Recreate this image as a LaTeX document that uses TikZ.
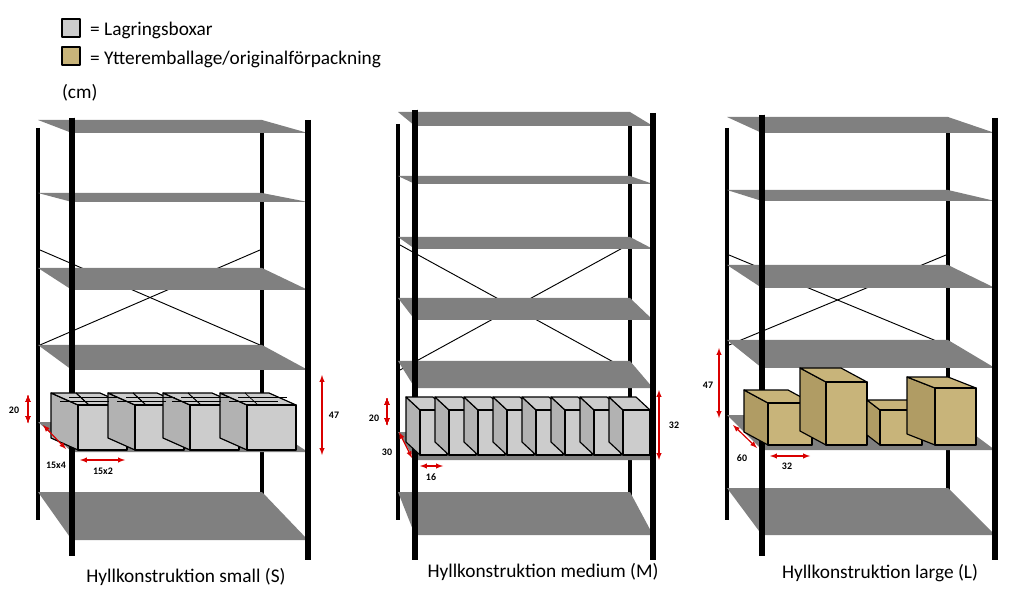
\documentclass[tikz,border=0pt]{standalone}
\usepackage{fontspec}
\setmainfont{Carlito}
\definecolor{cartonbrown}{HTML}{C8B47A}
\definecolor{cartonside}{HTML}{B09C64}
\definecolor{plategrey}{HTML}{808080}
\tikzset{
  backpost/.style={line width=3pt, black},
  frontpost/.style={line width=4.5pt, black},
  brace/.style={line width=0.8pt, black},
  greybox/.style={fill=gray!40, draw=black, line width=1pt, line join=round},
  greyside/.style={fill=gray!60, draw=black, line width=1pt, line join=round},
  brownbox/.style={fill=cartonbrown, draw=black, line width=1pt, line join=round},
  brownside/.style={fill=cartonside, draw=black, line width=1pt, line join=round},
  dimline/.style={red!85!black, line width=1pt, <->, >=latex},
  dimlabel/.style={font=\bfseries\fontsize{8.5}{10}\selectfont},
  legendtext/.style={font=\fontsize{16.5}{19}\selectfont},
  caption/.style={font=\fontsize{16.5}{19}\selectfont}
}
% shelf plate: back-left x, back-right x, front-left x, front-right x, back y, front y
\newcommand\shelfplate[6]{\fill[plategrey] (#1,#5) -- (#2,#5) -- (#4,#6) -- (#3,#6) -- cycle;}
% box: front x, front width, top y, bottom y, dx, dy, style, side style
\newcommand\storebox[8]{
  \draw[#8] (#1,#3) -- ++(#5,#6) -- ++(0,#4-#3) -- (#1,#4) -- cycle;
  \draw[#7] (#1,#3) -- ++(#5,#6) -- ++(#2,0) -- (#1+#2,#3) -- cycle;
  \draw[#7] (#1,#3) rectangle (#1+#2,#4);
}
\begin{document}
\begin{tikzpicture}[x=0.3mm, y=-0.3mm]
  \useasboundingbox (0,0) rectangle (1024,602);

  % legend
  \draw[greybox] (62,19) rectangle (80,37);
  \node[legendtext, anchor=west] (leggrey) at (86,30) {= Lagringsboxar};
  \draw[brownbox] (62,47) rectangle (80,65);
  \node[legendtext, anchor=west] (legbrown) at (86,59) {= Ytteremballage/originalförpackning};
  \node[legendtext, anchor=west] (unit) at (58,93) {(cm)};

  % small unit
  \draw[backpost] (38,128) -- (38,520);
  \draw[backpost] (262,130) -- (262,522);
  \draw[brace] (40,250) -- (260,345);
  \draw[brace] (40,345) -- (260,250);
  \foreach \yb/\yf in {120/133, 193/202, 268/290, 345/370, 422/452, 492/540}
    \shelfplate{38}{262}{72}{308}{\yb}{\yf}
  \draw[frontpost] (72,118) -- (72,556);
  \draw[frontpost] (308,120) -- (308,560);
  \foreach \fx in {78,135,190,247}
    \storebox{\fx}{49}{405}{450}{-27}{-12}{greybox}{greyside}
  \foreach \fx in {78,135,190,247}{
    \draw[line width=0.6pt] (\fx-9,397) -- (\fx+40,397);
    \draw[line width=0.6pt] (\fx-18,401) -- (\fx+31,401);
    \draw[line width=0.6pt] (\fx+11,405) -- (\fx-2,393);
  }
  \draw[dimline] (28,395) -- (28,423);
  \node[dimlabel] (s20) at (14,410) {20};
  \draw[dimline] (322,375) -- (322,455);
  \node[dimlabel] (s47) at (334,415) {47};
  \draw[dimline] (43,425) -- (66,449);
  \node[dimlabel] (s154) at (56,465) {15x4};
  \draw[dimline] (80,460) -- (125,460);
  \node[dimlabel] (s152) at (103,471) {15x2};
  \node[caption] (capS) at (186,577) {Hyllkonstruktion small (S)};

  % medium unit
  \draw[backpost] (398,124) -- (398,520);
  \draw[backpost] (630,124) -- (630,522);
  \draw[brace] (400,245) -- (628,370);
  \draw[brace] (400,370) -- (628,245);
  \foreach \yb/\yf in {112/126, 176/184, 237/249, 298/320, 361/388, 432/460, 492/535}
    \shelfplate{398}{630}{415}{653}{\yb}{\yf}
  \draw[frontpost] (415,110) -- (415,560);
  \draw[frontpost] (653,113) -- (653,560);
  \foreach \i in {0,...,7}
    \storebox{420+29*\i}{27}{410}{455}{-14}{-13}{greybox}{greyside}
  \draw[dimline] (387,398) -- (387,425);
  \node[dimlabel] (m20) at (374,418) {20};
  \draw[dimline] (399,432) -- (412,458);
  \node[dimlabel] (m30) at (387,452) {30};
  \draw[dimline] (420,466) -- (443,466);
  \node[dimlabel] (m16) at (431,477) {16};
  \draw[dimline] (659,390) -- (659,460);
  \node[dimlabel] (m32) at (674,425) {32};
  \node[caption] (capM) at (543,572) {Hyllkonstruktion medium (M)};

  % large unit
  \draw[backpost] (727,128) -- (727,520);
  \draw[backpost] (948,128) -- (948,522);
  \draw[brace] (729,255) -- (946,345);
  \draw[brace] (729,345) -- (946,255);
  \foreach \yb/\yf in {117/133, 190/201, 265/288, 340/368, 415/450, 488/535}
    \shelfplate{727}{948}{762}{995}{\yb}{\yf}
  \draw[frontpost] (762,115) -- (762,556);
  \draw[frontpost] (995,118) -- (995,560);
  \storebox{768}{44}{403}{445}{-24}{-13}{brownbox}{brownside}
  \storebox{826}{41}{382}{445}{-26}{-14}{brownbox}{brownside}
  \storebox{880}{42}{410}{445}{-13}{-10}{brownbox}{brownside}
  \storebox{935}{41}{388}{445}{-28}{-11}{brownbox}{brownside}
  \draw[dimline] (719,348) -- (719,418);
  \node[dimlabel] (l47) at (708,385) {47};
  \draw[dimline] (733,425) -- (757,448);
  \node[dimlabel] (l60) at (742,458) {60};
  \draw[dimline] (770,456) -- (810,456);
  \node[dimlabel] (l32) at (787,466) {32};
  \node[caption] (capL) at (880,573) {Hyllkonstruktion large (L)};
\end{tikzpicture}
\end{document}
